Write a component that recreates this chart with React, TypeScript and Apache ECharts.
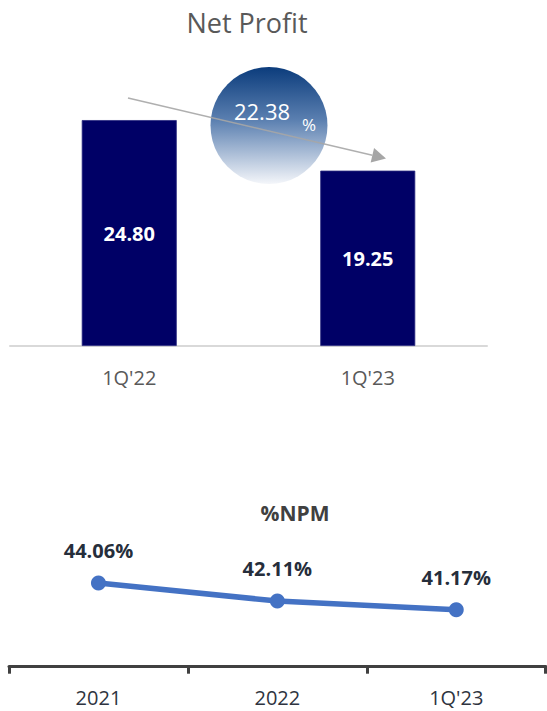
import React, { useEffect, useRef } from "react";
import * as echarts from "echarts";

const profitCategories = ["1Q'22", "1Q'23"];
const netProfit = [24.8, 19.25];
const npmCategories = ["2021", "2022", "1Q'23"];
const npmValues = [44.06, 42.11, 41.17];
const changeValue = "22.38";
const changeUnit = "%";

const FONT = "'Open Sans', 'Noto Sans', sans-serif";

export default function App() {
  const ref = useRef<HTMLDivElement>(null);
  useEffect(() => {
    if (!ref.current) return;
    const chart = echarts.init(ref.current, undefined, { renderer: "svg" });
    const tip = [386, 158.5];
    const start = [128, 98];
    const dx = tip[0] - start[0];
    const dy = tip[1] - start[1];
    const len = Math.sqrt(dx * dx + dy * dy);
    const ux = dx / len;
    const uy = dy / len;
    const headLen = 14;
    const headHalf = 7.5;
    const bx = tip[0] - ux * headLen;
    const by = tip[1] - uy * headLen;
    chart.setOption({
      animation: false,
      textStyle: { fontFamily: FONT },
      grid: [
        { left: 10, right: 60, top: 72.7, bottom: 365 },
        { left: 9, right: 1.3, top: 546.6, bottom: 44.3 },
      ],
      xAxis: [
        {
          type: "category",
          gridIndex: 0,
          data: profitCategories,
          axisLine: { lineStyle: { color: "#d9d9d9", width: 2 } },
          axisTick: { show: false },
          axisLabel: { color: "#595959", fontSize: 20, margin: 21, fontFamily: FONT },
        },
        {
          type: "category",
          gridIndex: 1,
          data: npmCategories,
          axisLine: { lineStyle: { color: "#404040", width: 3 } },
          axisTick: { show: true, length: 7, lineStyle: { color: "#404040", width: 3 } },
          axisLabel: { color: "#2e3440", fontSize: 20, margin: 21, fontFamily: FONT },
        },
      ],
      yAxis: [
        { type: "value", gridIndex: 0, min: 0, max: 30, show: false, splitLine: { show: false } },
        { type: "value", gridIndex: 1, min: 35, max: 48, show: false, splitLine: { show: false } },
      ],
      series: [
        {
          type: "bar",
          xAxisIndex: 0,
          yAxisIndex: 0,
          data: netProfit,
          barWidth: 95,
          itemStyle: { color: "#000066", borderColor: "#2b2b80", borderWidth: 0.8 },
          label: {
            show: true,
            position: "inside",
            color: "#ffffff",
            fontWeight: "bold",
            fontSize: 20,
            fontFamily: FONT,
            formatter: (p: any) => Number(p.value).toFixed(2),
          },
        },
        {
          type: "line",
          xAxisIndex: 1,
          yAxisIndex: 1,
          data: npmValues,
          symbol: "circle",
          symbolSize: 15,
          lineStyle: { color: "#4472c4", width: 5.5 },
          itemStyle: { color: "#4472c4" },
          label: {
            show: true,
            position: "top",
            distance: 15,
            color: "#262e3b",
            fontWeight: "bold",
            fontSize: 20,
            fontFamily: FONT,
            formatter: (p: any) => Number(p.value).toFixed(2) + "%",
          },
        },
      ],
      graphic: [
        {
          type: "text",
          x: 247,
          y: 22,
          style: {
            text: "Net Profit",
            fill: "#595959",
            fontSize: 27,
            fontFamily: FONT,
            textAlign: "center",
            textVerticalAlign: "middle",
          },
        },
        {
          type: "text",
          x: 295,
          y: 513,
          style: {
            text: "%NPM",
            fill: "#404040",
            fontSize: 21,
            fontWeight: "bold",
            fontFamily: FONT,
            textAlign: "center",
            textVerticalAlign: "middle",
          },
        },
        {
          type: "circle",
          z: 10,
          shape: { cx: 269, cy: 125.5, r: 58.5 },
          style: {
            fill: new echarts.graphic.LinearGradient(0, 0, 0, 1, [
              { offset: 0, color: "#0b3c7c" },
              { offset: 0.45, color: "#5a7fb0" },
              { offset: 1, color: "#f4f6fa" },
            ]),
          },
        },
        {
          type: "text",
          z: 11,
          x: 262,
          y: 111,
          style: {
            text: changeValue,
            fill: "#ffffff",
            fontSize: 22,
            fontFamily: FONT,
            textAlign: "center",
            textVerticalAlign: "middle",
          },
        },
        {
          type: "text",
          z: 11,
          x: 309,
          y: 124,
          style: {
            text: changeUnit,
            fill: "#ffffff",
            fontSize: 17,
            fontFamily: FONT,
            textAlign: "center",
            textVerticalAlign: "middle",
          },
        },
        {
          type: "line",
          z: 12,
          shape: { x1: start[0], y1: start[1], x2: bx, y2: by },
          style: { stroke: "#a6a6a6", lineWidth: 1.5, opacity: 0.9 },
        },
        {
          type: "polygon",
          z: 12,
          shape: {
            points: [
              [tip[0], tip[1]],
              [bx + uy * headHalf, by - ux * headHalf],
              [bx - uy * headHalf, by + ux * headHalf],
            ],
          },
          style: { fill: "#a6a6a6" },
        },
      ],
    });
    return () => chart.dispose();
  }, []);
  return (
    <div
      ref={ref}
      style={{ position: "fixed", left: 0, top: 0, width: 547, height: 711, background: "#ffffff" }}
    />
  );
}
